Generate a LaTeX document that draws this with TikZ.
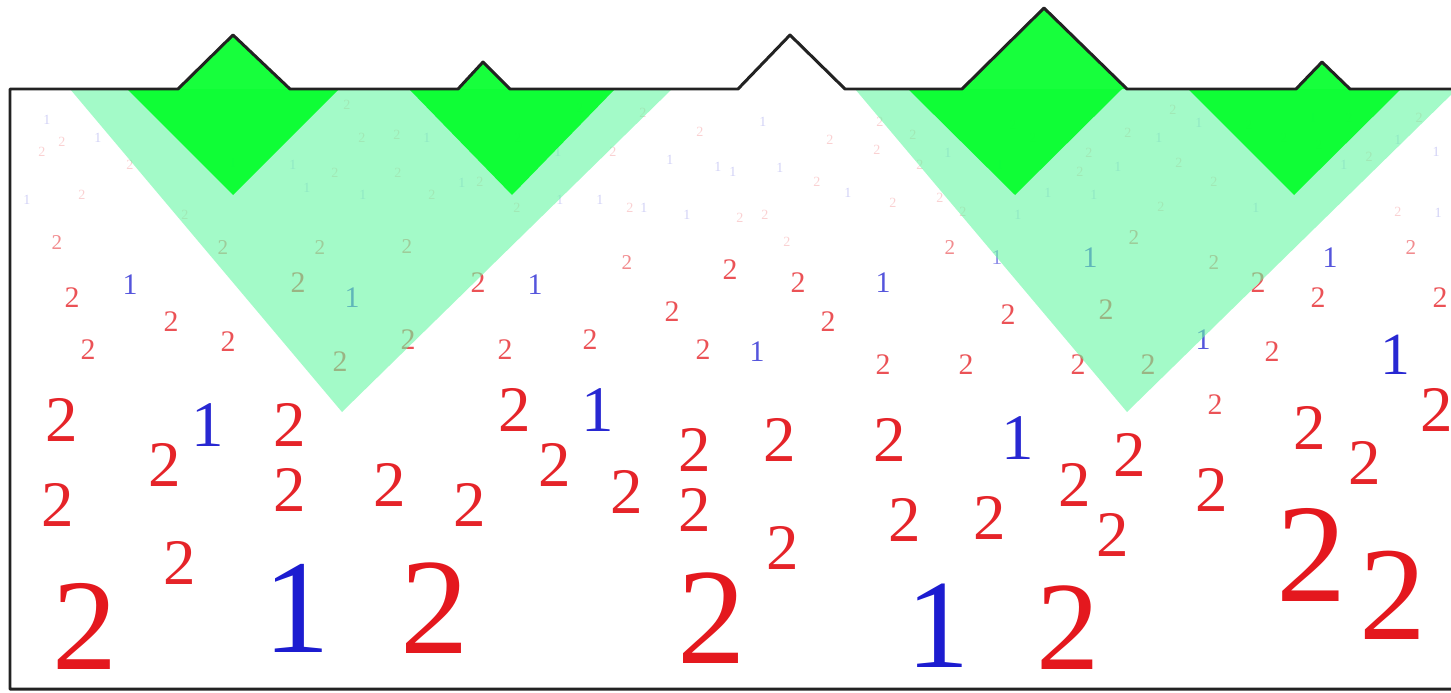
\documentclass[tikz,border=0pt]{standalone}
\usepackage{fontspec}
\setmainfont{Liberation Serif}
\usepackage{tikz}
\definecolor{numred}{RGB}{228,24,30}
\definecolor{numblue}{RGB}{28,28,208}
\definecolor{lightcone}{RGB}{102,247,163}
\definecolor{darkcone}{RGB}{3,255,43}
\definecolor{edgegray}{RGB}{34,34,34}
\tikzset{
    num/.style={inner sep=0pt, outer sep=0pt, font=\fontsize{#1}{#1}\selectfont},
    twonum/.style={num=#1, text=numred},
    onenum/.style={num=#1, text=numblue},
    lightfill/.style={fill=lightcone, fill opacity=0.6, draw=none},
    darkfill/.style={fill=darkcone, fill opacity=0.92, draw=none},
    rim/.style={draw=edgegray, line width=1.7pt, line join=round}
}

\begin{document}
\begin{tikzpicture}[x=0.02cm, y=-0.02cm]
        \useasboundingbox (0,0) rectangle (1451,693);

        % near digits (bottom)
        \foreach \px/\py/\fs [count=\i] in {85/626/74, 435/608/78, 712/618/78, 1068/628/72, 1312/555/80, 1393/595/76}
            \node[twonum=\fs] (bigtwo\i) at (\px,\py) {2};
        \foreach \px/\py/\fs [count=\i] in {297/608/76, 938/626/72}
            \node[onenum=\fs] (bigone\i) at (\px,\py) {1};

        % middle digits
        \foreach \px/\py [count=\i] in {58/505, 180/563, 165/465, 290/425, 290/490, 390/485, 470/505, 515/410,
                555/465, 627/492, 695/450, 695/510, 780/440, 783/548, 890/440, 905/520, 990/518, 1075/485,
                1130/455, 1113/535, 1212/490, 1310/428, 1365/463, 1437/410, 62/420}
            \node[twonum=37, text opacity=0.95] (midtwo\i) at (\px,\py) {2};
        \foreach \px/\py [count=\i] in {208/425, 598/410, 1018/438}
            \node[onenum=37, text opacity=0.95] (midone\i) at (\px,\py) {1};
        \node[onenum=34, text opacity=0.95] (midone4) at (1395,355) {1};

        % far digits
        \foreach \px/\py [count=\i] in {88/350, 171/322, 228/342, 340/362, 408/340, 505/350, 590/340, 703/350,
                883/365, 966/365, 1078/365, 1148/365, 1272/352, 72/298, 298/283, 478/283, 672/312, 730/270,
                798/283, 828/322, 1008/315, 1106/310, 1258/283, 1318/298, 1440/298, 1215/405}
            \node[twonum=17, text opacity=0.75] (fartwo\i) at (\px,\py) {2};
        \foreach \px/\py [count=\i] in {757/352, 1203/340, 130/285, 352/298, 535/285, 883/283, 1090/258, 1330/258}
            \node[onenum=17, text opacity=0.75] (farone\i) at (\px,\py) {1};
        \foreach \px/\py [count=\i] in {57/243, 223/248, 320/248, 407/247, 627/263, 950/248, 1134/238, 1214/263, 1411/248}
            \node[twonum=12, text opacity=0.5] (remtwo\i) at (\px,\py) {2};
        \node[onenum=12, text opacity=0.5] (remone1) at (997,258) {1};

        % faint digits near the edge
        \foreach \px/\py [count=\i] in {62/142, 42/152, 82/195, 130/165, 185/215, 362/138, 335/173, 347/105,
                397/135, 398/173, 480/182, 432/195, 518/138, 580/108, 643/113, 613/152, 517/208, 630/208,
                700/132, 830/140, 877/150, 880/122, 913/135, 920/165, 1013/125, 1033/138, 817/182, 893/203,
                740/218, 765/215, 940/198, 963/212, 1080/172, 787/242, 1089/153, 1128/133, 1173/110, 1179/163,
                1214/182, 1161/207, 1249/125, 1284/138, 1319/145, 1349/118, 1419/118, 1369/157, 1398/212}
            \node[twonum=8, text opacity=0.2] (dimtwo\i) at (\px,\py) {2};
        \foreach \px/\py [count=\i] in {47/120, 98/138, 27/200, 293/165, 307/188, 363/195, 233/163, 427/138,
                462/183, 558/152, 560/200, 600/200, 644/208, 670/160, 718/167, 687/215, 763/122, 948/153,
                1000/165, 733/172, 780/168, 848/193, 1018/215, 1048/193, 1159/138, 1199/123, 1118/167,
                1094/195, 1256/208, 1313/118, 1398/140, 1344/165, 1436/152, 1438/213}
            \node[onenum=8, text opacity=0.2] (dimone\i) at (\px,\py) {1};

        % light cones
        \fill[lightfill] (70,89) -- (342,412) -- (672,89) -- cycle;
        \fill[lightfill] (855,89) -- (1127,412) -- (1457,89) -- cycle;

        % dark cones with their bumps
        \fill[darkfill] (127,89) -- (178,89) -- (233,35) -- (290,89) -- (339,89) -- (233,195) -- cycle;
        \fill[darkfill] (409,89) -- (458,89) -- (483,62) -- (510,89) -- (615,89) -- (512,195) -- cycle;
        \fill[darkfill] (908,89) -- (962,89) -- (1044,8) -- (1127,89) -- (1122,89) -- (1015,195) -- cycle;
        \fill[darkfill] (1188,89) -- (1296,89) -- (1322,62) -- (1350,89) -- (1401,89) -- (1294,195) -- cycle;

        % frame and upper rim
        \draw[rim] (1451,689) -- (10,689) -- (10,89) -- (178,89) -- (233,35) -- (290,89) -- (458,89)
            -- (483,62) -- (510,89) -- (738,89) -- (790,35) -- (845,89) -- (962,89) -- (1044,8)
            -- (1127,89) -- (1296,89) -- (1322,62) -- (1350,89) -- (1451,89);
    \end{tikzpicture}
\end{document}
